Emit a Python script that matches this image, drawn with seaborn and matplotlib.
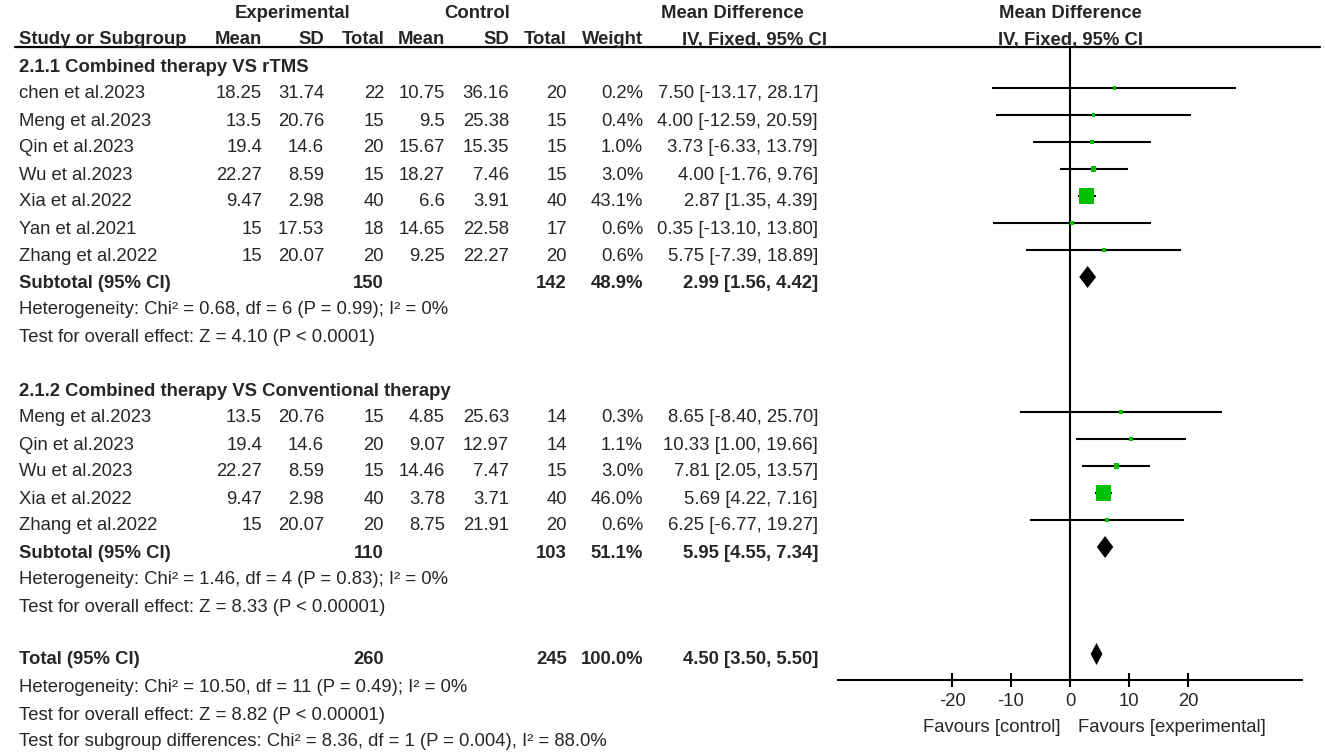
import matplotlib
matplotlib.use("Agg")
import matplotlib.pyplot as plt
from matplotlib.lines import Line2D
import pandas as pd
import seaborn as sns

# ---- data ----
g1_names = ["chen et al.2023", "Meng et al.2023", "Qin et al.2023", "Wu et al.2023",
            "Xia et al.2022", "Yan et al.2021", "Zhang et al.2022"]
g1_exp_mean = [18.25, 13.5, 19.4, 22.27, 9.47, 15, 15]
g1_exp_sd = [31.74, 20.76, 14.6, 8.59, 2.98, 17.53, 20.07]
g1_exp_n = [22, 15, 20, 15, 40, 18, 20]
g1_ctl_mean = [10.75, 9.5, 15.67, 18.27, 6.6, 14.65, 9.25]
g1_ctl_sd = [36.16, 25.38, 15.35, 7.46, 3.91, 22.58, 22.27]
g1_ctl_n = [20, 15, 15, 15, 40, 17, 20]
g1_weight = [0.2, 0.4, 1.0, 3.0, 43.1, 0.6, 0.6]
g1_md = [7.50, 4.00, 3.73, 4.00, 2.87, 0.35, 5.75]
g1_lo = [-13.17, -12.59, -6.33, -1.76, 1.35, -13.10, -7.39]
g1_hi = [28.17, 20.59, 13.79, 9.76, 4.39, 13.80, 18.89]
g1_sub = dict(n_exp=150, n_ctl=142, weight=48.9, md=2.99, lo=1.56, hi=4.42)

g2_names = ["Meng et al.2023", "Qin et al.2023", "Wu et al.2023", "Xia et al.2022",
            "Zhang et al.2022"]
g2_exp_mean = [13.5, 19.4, 22.27, 9.47, 15]
g2_exp_sd = [20.76, 14.6, 8.59, 2.98, 20.07]
g2_exp_n = [15, 20, 15, 40, 20]
g2_ctl_mean = [4.85, 9.07, 14.46, 3.78, 8.75]
g2_ctl_sd = [25.63, 12.97, 7.47, 3.71, 21.91]
g2_ctl_n = [14, 14, 15, 40, 20]
g2_weight = [0.3, 1.1, 3.0, 46.0, 0.6]
g2_md = [8.65, 10.33, 7.81, 5.69, 6.25]
g2_lo = [-8.40, 1.00, 2.05, 4.22, -6.77]
g2_hi = [25.70, 19.66, 13.57, 7.16, 19.27]
g2_sub = dict(n_exp=110, n_ctl=103, weight=51.1, md=5.95, lo=4.55, hi=7.34)

total = dict(n_exp=260, n_ctl=245, weight=100.0, md=4.50, lo=3.50, hi=5.50)

g1_title = "2.1.1 Combined therapy VS rTMS"
g2_title = "2.1.2 Combined therapy VS Conventional therapy"
g1_stats = ["Heterogeneity: Chi² = 0.68, df = 6 (P = 0.99); I² = 0%",
            "Test for overall effect: Z = 4.10 (P < 0.0001)"]
g2_stats = ["Heterogeneity: Chi² = 1.46, df = 4 (P = 0.83); I² = 0%",
            "Test for overall effect: Z = 8.33 (P < 0.00001)"]
tot_stats = ["Heterogeneity: Chi² = 10.50, df = 11 (P = 0.49); I² = 0%",
             "Test for overall effect: Z = 8.82 (P < 0.00001)",
             "Test for subgroup differences: Chi² = 8.36, df = 1 (P = 0.004), I² = 88.0%"]
x_ticks = [-20, -10, 0, 10, 20]

# ---- layout (pixels) ----
W, H = 1325, 752
FS = 13.3
GREEN = "#00c000"
col_x = [262, 324, 384, 445, 509, 567, 643, 818]  # right edges of numeric columns
y0, pitch = 67, 27
def row_y(i):
    return y0 + i * pitch

sns.set_style("white")
plt.rcParams["font.family"] = ["Liberation Sans", "DejaVu Sans"]

fig = plt.figure(figsize=(W / 100, H / 100), dpi=100)

def put(x, y, s, ha="left", bold=False):
    fig.text(x / W, 1 - y / H, s, ha=ha, va="center", fontsize=FS,
             fontweight="bold" if bold else "normal")

# headers
put(293, 13, "Experimental", ha="center", bold=True)
put(477, 13, "Control", ha="center", bold=True)
put(732, 13, "Mean Difference", ha="center", bold=True)
put(1070, 13, "Mean Difference", ha="center", bold=True)
put(19, 40, "Study or Subgroup", bold=True)
for x, s in zip(col_x[:7], ["Mean", "SD", "Total", "Mean", "SD", "Total", "Weight"]):
    put(x, 40, s, ha="right", bold=True)
put(755, 40, "IV, Fixed, 95% CI", ha="center", bold=True)
put(1070, 40, "IV, Fixed, 95% CI", ha="center", bold=True)
fig.add_artist(Line2D([15 / W, 1320 / W], [1 - 47 / H, 1 - 47 / H], color="black", lw=1.6))

def ci_txt(md, lo, hi):
    return f"{md:.2f} [{lo:.2f}, {hi:.2f}]"

plot_rows = []
diamonds = []

def group(start, title, names, em, es, en, cm, cs, cn, wt, md, lo, hi, sub, stats):
    put(19, row_y(start), title, bold=True)
    for k in range(len(names)):
        y = row_y(start + 1 + k)
        put(19, y, names[k])
        vals = [f"{em[k]:g}", f"{es[k]:g}", f"{en[k]}", f"{cm[k]:g}", f"{cs[k]:g}",
                f"{cn[k]}", f"{wt[k]:.1f}%", ci_txt(md[k], lo[k], hi[k])]
        for x, v in zip(col_x, vals):
            put(x, y, v, ha="right")
        plot_rows.append(dict(md=md[k], lo=lo[k], hi=hi[k], weight=wt[k], gy=y - 6))
    ys = row_y(start + 1 + len(names))
    put(19, ys, "Subtotal (95% CI)", bold=True)
    put(col_x[2], ys, str(sub["n_exp"]), ha="right", bold=True)
    put(col_x[5], ys, str(sub["n_ctl"]), ha="right", bold=True)
    put(col_x[6], ys, f"{sub['weight']:.1f}%", ha="right", bold=True)
    put(col_x[7], ys, ci_txt(sub["md"], sub["lo"], sub["hi"]), ha="right", bold=True)
    diamonds.append((sub["md"], sub["lo"], sub["hi"], ys - 6))
    for j, s in enumerate(stats):
        put(19, row_y(start + 2 + len(names) + j), s)

group(0, g1_title, g1_names, g1_exp_mean, g1_exp_sd, g1_exp_n, g1_ctl_mean, g1_ctl_sd,
      g1_ctl_n, g1_weight, g1_md, g1_lo, g1_hi, g1_sub, g1_stats)
group(12, g2_title, g2_names, g2_exp_mean, g2_exp_sd, g2_exp_n, g2_ctl_mean, g2_ctl_sd,
      g2_ctl_n, g2_weight, g2_md, g2_lo, g2_hi, g2_sub, g2_stats)

yt = row_y(22) - 2
put(19, yt, "Total (95% CI)", bold=True)
put(col_x[2], yt, str(total["n_exp"]), ha="right", bold=True)
put(col_x[5], yt, str(total["n_ctl"]), ha="right", bold=True)
put(col_x[6], yt, f"{total['weight']:.1f}%", ha="right", bold=True)
put(col_x[7], yt, ci_txt(total["md"], total["lo"], total["hi"]), ha="right", bold=True)
diamonds.append((total["md"], total["lo"], total["hi"], yt - 5))
for j, s in enumerate(tot_stats):
    put(19, row_y(23 + j), s)

# ---- forest panel: x in data units, y in pixel rows ----
ax = fig.add_axes([837 / W, 0, 466 / W, 1])
df = pd.DataFrame(plot_rows)
ax.hlines(df["gy"], df["lo"], df["hi"], color="black", lw=1.5, zorder=2)
sns.scatterplot(data=df, x="md", y="gy", size="weight", sizes=(6, 125), size_norm=(0.2, 46.0),
                marker="s", color=GREEN, linewidth=0, legend=False, ax=ax, zorder=3)
for md, lo, hi, y in diamonds:
    ax.fill([lo, md, hi, md], [y, y - 11, y, y + 11], color="black", lw=0, zorder=3)

axis_y = 680
ax.vlines(0, 47, axis_y, color="black", lw=1.5)
ax.hlines(axis_y, -39.5, 39.5, color="black", lw=1.5)
ax.vlines(x_ticks, axis_y - 7, axis_y + 7, color="black", lw=1.5)
for t in x_ticks:
    ax.text(t, 702, str(t), ha="center", va="center", fontsize=FS)
ax.text(-1.6, 727, "Favours [control]", ha="right", va="center", fontsize=FS)
ax.text(1.4, 727, "Favours [experimental]", ha="left", va="center", fontsize=FS)

ax.set_xlim(-39.5, 39.5)
ax.set_ylim(H, 0)
ax.axis("off")

fig.savefig("out.png", dpi=100)
